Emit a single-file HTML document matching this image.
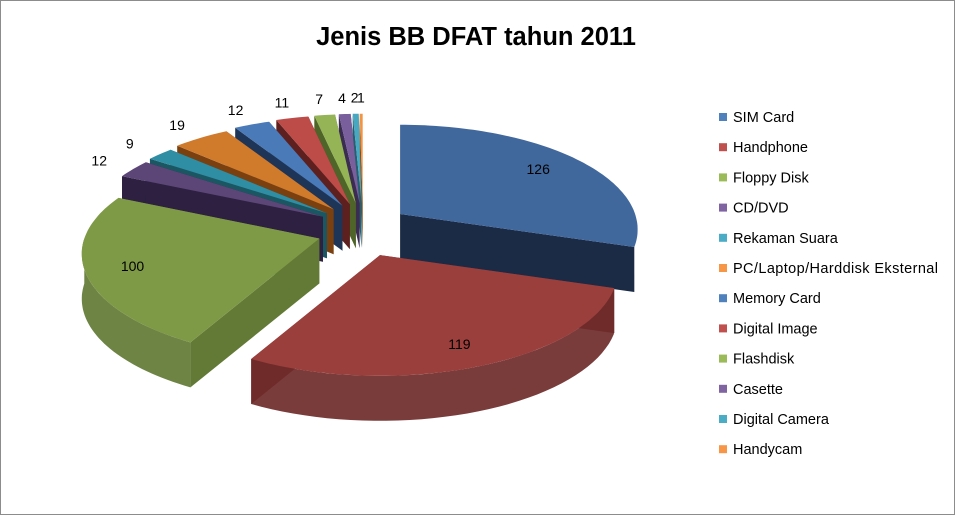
<!DOCTYPE html>
<html><head><meta charset="utf-8">
<style>
html,body{margin:0;padding:0;background:#fff;}
#wrap{position:relative;width:955px;height:515px;overflow:hidden;font-family:"Liberation Sans",sans-serif;}
#frame{position:absolute;left:0;top:0;width:953px;height:513px;border:1px solid #8c8c8c;}
svg{position:absolute;left:0;top:0;}
</style></head>
<body>
<div id="wrap">
<div id="frame"></div>
<svg id="chart" width="955" height="515"></svg>
</div>
<script>
const categories = ["SIM Card","Handphone","Floppy Disk","CD/DVD","Rekaman Suara","PC/Laptop/Harddisk Eksternal","Memory Card","Digital Image","Flashdisk","Casette","Digital Camera","Handycam"];
const values = [126,119,100,12,9,19,12,11,7,4,2,1];
const topColors = ["#40689c","#9b3f3d","#7f9a46","#5c4577","#2f8ea3","#d07a2c","#4a7bb8","#bd4c49","#94b455","#7a5f9d","#48a8c2","#f39443"];
const sideColors = ["#1b2b45","#6e2b2a","#627a35","#2d2040","#1b5663","#7a4010","#1f3557","#5e201e","#4f6428","#3b2c52","#24606f","#8a4d17"];
const legendColors = ["#4f81bd","#c0504d","#9bbb59","#8064a2","#4bacc6","#f79646","#4f81bd","#c0504d","#9bbb59","#8064a2","#4bacc6","#f79646"];

const NS="http://www.w3.org/2000/svg";
const svg=document.getElementById('chart');
const CX=363, CY=230, RX=235, RY=105, EX=46, EY=27, DEPTH=45, PERSP=0.15;
const total=values.reduce((a,b)=>a+b,0);
function f(th){return 1+PERSP*(-Math.cos(th));}
function pt(ax,ay,th,k){k=k||1;const s=f(th)*k;return [ax+Math.sin(th)*RX*s, ay-Math.cos(th)*RY*s];}
function mk(tag,attrs){const e=document.createElementNS(NS,tag);for(const k in attrs)e.setAttribute(k,attrs[k]);svg.appendChild(e);return e;}
function poly(pts){return pts.map(p=>p[0].toFixed(1)+','+p[1].toFixed(1)).join(' ');}

// title
const t=mk('text',{x:476,y:45,'text-anchor':'middle','font-size':'25.5','font-weight':'bold',fill:'#000'});
t.textContent='Jenis BB DFAT tahun 2011';



// slices
let cum=0;const slices=[];
values.forEach((v,i)=>{
  const a0=cum/total*2*Math.PI; cum+=v; const a1=cum/total*2*Math.PI; const mid=(a0+a1)/2;
  const ax=CX+Math.sin(mid)*EX, ay=CY-Math.cos(mid)*EY;
  slices.push({i,v,a0,a1,mid,ax,ay});
});
const order=slices.slice().sort((a,b)=>a.ay-b.ay);
order.forEach(s=>{
  const g=document.createElementNS(NS,'g');svg.appendChild(g);
  
  
  const add=(tag,attrs)=>{const e=document.createElementNS(NS,tag);for(const k in attrs)e.setAttribute(k,attrs[k]);g.appendChild(e);return e;};
  const p0=pt(s.ax,s.ay,s.a0), p1=pt(s.ax,s.ay,s.a1);
  const lo=Math.max(s.a0,Math.PI*0.6), hi=Math.min(s.a1,3*Math.PI/2);
  if(hi>lo){
    const top=[],bot=[];const n=40;
    for(let k=0;k<=n;k++){const th=lo+(hi-lo)*k/n;const p=pt(s.ax,s.ay,th);top.push(p);bot.push([p[0],p[1]+DEPTH]);}
    add('polygon',{points:poly(top.concat(bot.reverse())),fill:sideColors[s.i],'fill-opacity':'0.92'});
  }
  [p0,p1].forEach(p=>{
    add('polygon',{points:poly([[s.ax,s.ay],p,[p[0],p[1]+DEPTH],[s.ax,s.ay+DEPTH]]),fill:sideColors[s.i]});
  });
  const tp=[[s.ax,s.ay]];const n=Math.max(4,Math.ceil((s.a1-s.a0)*40));
  for(let k=0;k<=n;k++){tp.push(pt(s.ax,s.ay,s.a0+(s.a1-s.a0)*k/n));}
  add('polygon',{points:poly(tp),fill:topColors[s.i]});
});

// data labels
slices.forEach(s=>{
  const big=s.v/total>0.1;
  const p=pt(s.ax,s.ay,s.mid,big?0.8:1.18);
  const lb=mk('text',{x:p[0].toFixed(1),y:(p[1]+5).toFixed(1),'text-anchor':'middle','font-size':'14',fill:'#000'});
  lb.textContent=String(s.v);
  
  
});

// legend
categories.forEach((c,i)=>{
  const y=117+30.2*i;
  const r=mk('rect',{x:719,y:y-4,width:8,height:8,fill:legendColors[i]});
  
  
  const tx=mk('text',{x:733,y:y+5,'font-size':'14.5',fill:'#000',textLength:c.length>20?'205':null});
  if(c.length<=20) tx.removeAttribute('textLength');
  tx.textContent=c;
  
  
});
</script>
</body></html>
